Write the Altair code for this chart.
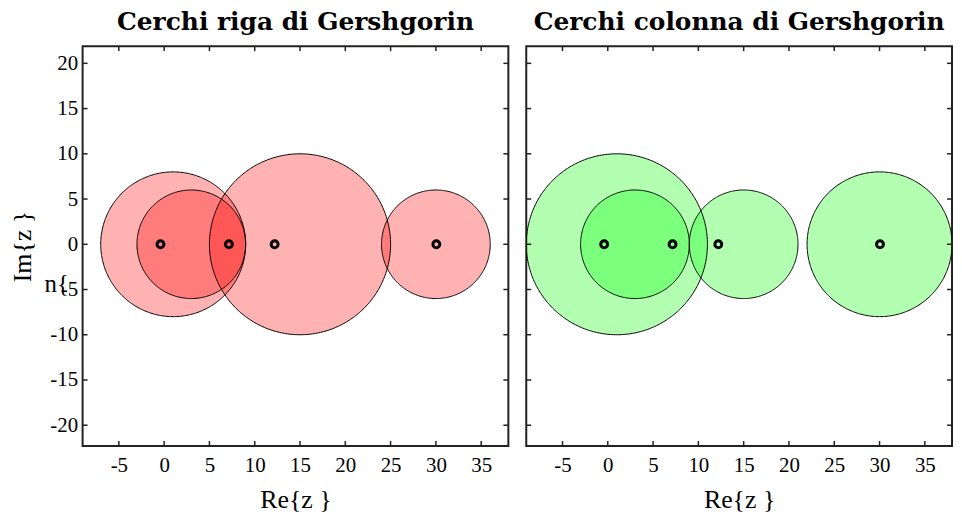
import numpy as np
import pandas as pd
import altair as alt

# ---- data ----
CENTERS = [1, 3, 15, 30]          # diagonal entries (circle centres on the real axis)
ROW_RADII = [8, 6, 10, 6]         # row Gershgorin radii
COL_RADII = [10, 6, 6, 8]         # column Gershgorin radii
EIGEN_RE = [-0.4, 7.15, 12.2, 30.05]
EIGEN_IM = [0, 0, 0, 0]
XTICKS = [-5, 0, 5, 10, 15, 20, 25, 30, 35]
YTICKS = [-20, -15, -10, -5, 0, 5, 10, 15, 20]
TITLES = ["Cerchi riga di Gershgorin", "Cerchi colonna di Gershgorin"]
FILLS = ["#ff0000", "#00ff00"]

XDOM = [-9, 38]
YDOM = [-22.3, 21.9]
W, H = 428, 402
SERIF = "Liberation Serif"
TICK_COLOR = "#222222"


def fill_frame(centers, radii, n=180):
    rows = []
    for cid, (c, r) in enumerate(zip(centers, radii)):
        for k in range(n + 1):
            t = np.pi * k / n
            rows.append({"cid": cid, "x": c + r * np.cos(t),
                         "y": r * np.sin(t), "y2": -r * np.sin(t)})
    return pd.DataFrame(rows)


def outline_frame(centers, radii, n=360):
    rows = []
    for cid, (c, r) in enumerate(zip(centers, radii)):
        for k in range(n + 1):
            t = 2 * np.pi * k / n
            rows.append({"cid": cid, "k": k, "x": c + r * np.cos(t), "y": r * np.sin(t)})
    return pd.DataFrame(rows)


def xenc(field):
    return alt.X(field, type="quantitative",
                 scale=alt.Scale(domain=XDOM, nice=False, zero=False),
                 axis=alt.Axis(values=XTICKS, title="Re{z }", ticks=False, domain=False,
                               grid=False, labelExpr="'' + datum.value",
                               labelFont=SERIF, labelFontSize=21, labelColor="black",
                               labelPadding=9, titleFont=SERIF, titleFontSize=26,
                               titleFontWeight="normal", titleColor="black",
                               titlePadding=11))


def yenc(field, show):
    if show:
        ax = alt.Axis(values=YTICKS, title="Im{z }", ticks=False, domain=False,
                      grid=False, labelExpr="'' + datum.value",
                      labelFont=SERIF, labelFontSize=21, labelColor="black",
                      labelPadding=5, titleFont=SERIF, titleFontSize=26,
                      titleFontWeight="normal", titleColor="black", titlePadding=14)
    else:
        ax = None
    return alt.Y(field, type="quantitative", stack=None,
                 scale=alt.Scale(domain=YDOM, nice=False, zero=False), axis=ax)


def panel(radii, fill, title, show_y):
    disks = alt.Chart(fill_frame(CENTERS, radii)).mark_area(
        color=fill, fillOpacity=0.3, strokeWidth=0, clip=True
    ).encode(x=xenc("x"), y=yenc("y", show_y), y2="y2", detail="cid:N")
    rims = alt.Chart(outline_frame(CENTERS, radii)).mark_line(
        color="black", strokeWidth=1, clip=True
    ).encode(x=xenc("x"), y=yenc("y", show_y), detail="cid:N", order="k:Q")
    eig = alt.Chart(pd.DataFrame({"re": EIGEN_RE, "im": EIGEN_IM})).mark_point(
        shape="circle", filled=False, size=48, strokeWidth=3, color="black", opacity=1
    ).encode(x=xenc("re"), y=yenc("im", show_y))

    xt = pd.DataFrame({"v": XTICKS})
    yt = pd.DataFrame({"v": YTICKS})
    rule = dict(color=TICK_COLOR, strokeWidth=1.5)
    t_top = alt.Chart(xt).mark_rule(**rule).encode(
        x=xenc("v"), y=alt.value(0), y2=alt.value(5))
    t_bot = alt.Chart(xt).mark_rule(**rule).encode(
        x=xenc("v"), y=alt.value(H), y2=alt.value(H - 5))
    t_left = alt.Chart(yt).mark_rule(**rule).encode(
        y=yenc("v", show_y), x=alt.value(0), x2=alt.value(5))
    t_right = alt.Chart(yt).mark_rule(**rule).encode(
        y=yenc("v", show_y), x=alt.value(W), x2=alt.value(W - 5))

    layers = [disks, rims, eig, t_top, t_bot, t_left, t_right]
    if show_y:
        stray = alt.Chart(pd.DataFrame({"t": ["n{"]})).mark_text(
            font=SERIF, fontSize=25, color="black", baseline="middle", align="center"
        ).encode(text="t:N", x=alt.value(-26), y=alt.value(239))
        layers.append(stray)

    return alt.layer(*layers).properties(
        width=W, height=H,
        title=alt.TitleParams(title, anchor="middle", frame="group",
                              font="DejaVu Serif", fontSize=25, fontWeight="bold",
                              color="black", offset=10),
    )


left = panel(ROW_RADII, FILLS[0], TITLES[0], True)
right = panel(COL_RADII, FILLS[1], TITLES[1], False)

chart = alt.hconcat(left, right, spacing=14).properties(
    padding={"left": 1, "top": 0, "right": 0, "bottom": 0},
    background="white",
).configure_view(stroke=TICK_COLOR, strokeWidth=2)

chart.save("out.html", embed_options={"renderer": "svg", "actions": False})
